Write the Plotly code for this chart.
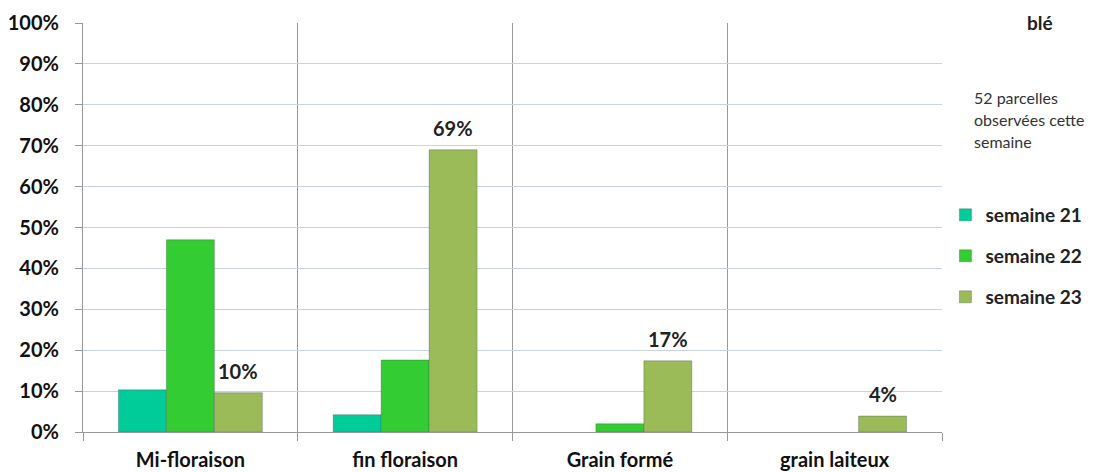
import plotly.graph_objects as go

categories = ["Mi-floraison", "fin floraison", "Grain formé", "grain laiteux"]
series_names = ["semaine 21", "semaine 22", "semaine 23"]
semaine21 = [0.103, 0.042, None, None]
semaine22 = [0.47, 0.176, 0.02, None]
semaine23 = [0.096, 0.69, 0.174, 0.039]
label23 = ["10%", "69%", "17%", "4%"]
colors = ["#00CC99", "#33CC33", "#9BBB59"]
y_ticks = [0, 0.1, 0.2, 0.3, 0.4, 0.5, 0.6, 0.7, 0.8, 0.9, 1.0]
y_ticktext = ["0%", "10%", "20%", "30%", "40%", "50%", "60%", "70%", "80%", "90%", "100%"]
note_lines = ["52 parcelles", "observées cette", "semaine"]

FONT = "Lato"
xpos = list(range(len(categories)))

fig = go.Figure()
legend_ids = ["legend", "legend2", "legend3"]
for name, vals, col, lg in zip(series_names, [semaine21, semaine22, semaine23], colors, legend_ids):
    fig.add_trace(go.Bar(
        x=xpos, y=vals, name=name, legend=lg,
        marker=dict(color=col, line=dict(color="rgba(60,90,80,0.45)", width=0.8)),
        hoverinfo="skip",
    ))

# bar-end labels for semaine 23 (data-positioned annotations)
w = (1 - 0.33) / 3
for i, (v, t) in enumerate(zip(semaine23, label23)):
    fig.add_annotation(x=xpos[i] + w, y=v, text=t, showarrow=False,
                       yshift=22, font=dict(family=FONT, size=20, color="#222222", weight="bold"))

for line, yy in zip(note_lines, [0.819, 0.765, 0.711]):
    fig.add_annotation(x=1.035, y=yy, xref="paper", yref="paper", xanchor="left", yanchor="middle",
                       showarrow=False, text=line,
                       font=dict(family=FONT, size=16, color="#333333"))
fig.add_annotation(x=1.114, y=0.968, xref="paper", yref="paper", xanchor="center", yanchor="bottom",
                   showarrow=False, text="blé",
                   font=dict(family=FONT, size=19, color="#222222", weight="bold"))

legend_common = dict(xanchor="left", yanchor="middle", bgcolor="rgba(0,0,0,0)",
                     font=dict(family=FONT, size=19, color="#222222", weight="bold"), itemclick=False)
ys = [0.5306, 0.4303, 0.3301]
layout_legends = {}
for lg, yy in zip(legend_ids, ys):
    d = dict(legend_common)
    d.update(x=1.004, y=yy)
    layout_legends[lg] = d

fig.update_layout(
    width=1086, height=464,
    margin=dict(l=75, r=152, t=15, b=40, autoexpand=False),
    paper_bgcolor="white", plot_bgcolor="white",
    barmode="group", bargap=0.33, bargroupgap=0,
    showlegend=True,
    font=dict(family=FONT, color="#222222"),
    **layout_legends,
)

fig.update_xaxes(
    range=[-0.5, 3.5], tickvals=xpos,
    ticktext=categories,
    tickfont=dict(family=FONT, size=20, color="#111111", weight="bold"),
    ticks="", showgrid=False, ticklabelstandoff=10,
    showline=True, linecolor="#999999", linewidth=1.2,
    minor=dict(tickvals=[-0.5, 0.5, 1.5, 2.5, 3.5], ticks="outside", ticklen=8,
               tickcolor="#999999", showgrid=True, gridcolor="#999999", gridwidth=1),
    zeroline=False, fixedrange=True,
)
fig.update_yaxes(
    range=[0, 1.0], tickvals=y_ticks, ticktext=y_ticktext,
    tickfont=dict(family=FONT, size=20, color="#111111", weight="bold"),
    ticks="outside", ticklen=7, tickcolor="#999999",
    showgrid=True, gridcolor="#C9D3E0", gridwidth=1.2,
    showline=True, linecolor="#999999", linewidth=1.2,
    ticklabelstandoff=12, zeroline=False, fixedrange=True,
)

fig.write_html("out.html")
